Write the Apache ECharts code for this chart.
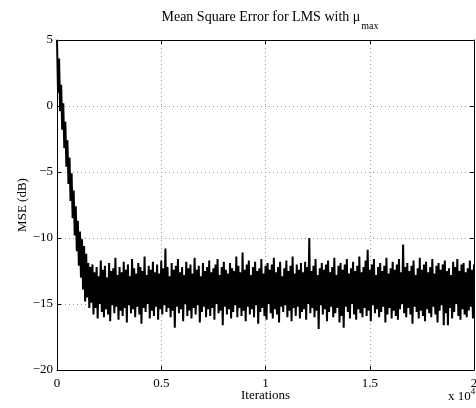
<!DOCTYPE html>
<html>
<head>
<meta charset="utf-8">
<script src="https://cdn.jsdelivr.net/npm/echarts@6/dist/echarts.min.js"></script>
<style>html,body{margin:0;padding:0;background:#fff}#c{width:476px;height:408px}</style>
</head>
<body>
<div id="c"></div>
<script>
// Sample spacing of the recorded curve (iterations per sample)
const STEP = 50;
// x-axis tick labels (in units of 10^4 iterations)
const xTicks = [0, 5000, 10000, 15000, 20000];
const xTickLabels = ['0', '0.5', '1', '1.5', '2'];
// y-axis ticks (dB)
const yTicks = [-20, -15, -10, -5, 0, 5];
// MSE in dB, one value every STEP iterations
const mseDb = [
  5.0, 1.0, 3.6, -0.4, 1.6, -1.8, 0.2, -3.2, -1.2, -4.6,
  -2.6, -5.9, -3.9, -7.2, -5.1, -8.5, -6.4, -9.8, -7.6, -11.0,
  -8.7, -12.1, -9.5, -13.0, -10.1, -13.9, -10.6, -14.8, -11.2, -14.5,
  -11.9, -15.3, -12.2, -14.9, -12.0, -15.8,
  -12.6,-15.3,-12.2,-16.1,-12.9,-15.0,-11.7,-15.6,-12.4,-16.0,
  -12.1,-15.4,-13.0,-15.8,-11.9,-16.3,-12.5,-15.1,-12.3,-15.7,
  -11.5,-15.2,-12.8,-16.2,-12.2,-15.5,-12.6,-15.9,-11.8,-15.3,
  -12.4,-16.4,-12.0,-15.1,-12.9,-15.7,-11.6,-15.4,-12.3,-16.0,
  -12.7,-15.2,-11.9,-15.8,-12.2,-16.5,-12.5,-15.3,-11.4,-15.6,
  -12.8,-15.0,-12.1,-16.1,-12.4,-15.5,-11.8,-15.9,-12.6,-15.2,
  -12.0,-16.2,-12.7,-15.4,-11.7,-15.8,-12.3,-15.1,-10.8,-15.6,
  -12.2,-15.3,-12.9,-16.0,-11.9,-15.5,-12.4,-16.8,-12.1,-15.2,
  -11.6,-15.7,-12.6,-15.4,-12.2,-16.3,-12.8,-15.0,-11.8,-15.9,
  -12.3,-15.5,-12.0,-16.1,-12.7,-15.3,-11.5,-15.8,-12.4,-15.1,
  -12.1,-16.4,-12.9,-15.6,-11.9,-15.2,-12.5,-16.0,-12.2,-15.4,
  -11.7,-15.9,-12.6,-15.3,-12.3,-16.2,-12.0,-15.0,-11.6,-15.7,
  -12.8,-15.5,-12.2,-16.6,-11.8,-15.2,-12.4,-15.8,-12.7,-15.4,
  -11.9,-16.1,-12.3,-15.6,-12.5,-15.1,-11.4,-16.0,-12.1,-15.3,
  -12.6,-15.9,-11.1,-15.5,-12.4,-16.3,-12.0,-15.2,-11.7,-15.8,
  -12.8,-15.4,-12.2,-16.0,-11.8,-15.1,-12.5,-16.5,-12.3,-15.6,
  -11.6,-15.3,-12.7,-15.9,-12.1,-16.2,-11.9,-15.0,-12.4,-15.7,
  -12.0,-16.1,-11.5,-15.4,-12.6,-15.8,-12.2,-16.4,-11.8,-15.2,
  -12.9,-15.6,-12.3,-15.1,-11.7,-16.0,-12.5,-15.5,-12.1,-16.3,
  -11.4,-15.3,-12.7,-15.9,-12.0,-15.2,-12.4,-16.1,-11.9,-15.6,
  -12.6,-15.4,-11.8,-16.2,-12.2,-15.0,-10.0,-15.7,-12.5,-15.3,
  -12.1,-16.0,-11.6,-15.5,-12.8,-16.9,-12.3,-15.1,-11.9,-15.8,
  -12.4,-15.4,-12.0,-16.3,-11.7,-15.6,-12.6,-15.2,-12.2,-16.0,
  -11.5,-15.7,-12.8,-15.3,-12.1,-16.4,-11.9,-15.9,-12.4,-16.8,
  -12.0,-15.2,-11.6,-15.6,-12.7,-16.1,-12.3,-15.0,-11.8,-15.8,
  -12.5,-16.2,-12.1,-15.4,-11.4,-15.7,-12.6,-16.0,-12.2,-15.3,
  -11.7,-15.9,-10.9,-15.5,-12.4,-16.3,-12.0,-15.1,-11.6,-15.7,
  -12.8,-15.4,-12.2,-16.0,-11.9,-15.6,-12.5,-15.2,-12.1,-16.4,
  -11.5,-15.8,-12.7,-15.3,-12.3,-16.1,-11.8,-15.5,-12.4,-15.9,
  -12.0,-16.2,-11.6,-15.4,-12.6,-15.0,-10.5,-15.7,-12.2,-16.0,
  -11.9,-15.3,-12.5,-15.8,-12.1,-16.5,-11.7,-15.2,-12.8,-15.6,
  -12.3,-16.1,-11.5,-15.5,-12.4,-15.9,-12.0,-16.3,-11.8,-15.4,
  -12.6,-15.7,-12.2,-16.0,-11.6,-15.2,-12.7,-15.8,-12.1,-16.4,
  -11.9,-15.5,-12.4,-15.1,-12.0,-16.6,-11.7,-15.7,-12.5,-16.6,
  -12.3,-15.3,-12.8,-16.1,-11.8,-15.6,-12.2,-15.0,-11.6,-15.9,
  -12.5,-16.2,-12.0,-15.4,-11.9,-15.8,-12.6,-16.0,-12.3,-15.5,
  -11.7,-15.2,-12.4,-16.1,-12.0
];

const FONT = "'Liberation Serif', 'Times New Roman', serif";
const chart = echarts.init(document.getElementById('c'), null, {renderer: 'canvas'});
const xMin = xTicks[0], xMax = xTicks[xTicks.length - 1];
const xInt = xTicks[1] - xTicks[0];
const yMin = yTicks[0], yMax = yTicks[yTicks.length - 1];
const yInt = yTicks[1] - yTicks[0];
const labelOf = v => { const k = xTicks.indexOf(v); return k >= 0 ? xTickLabels[k] : ''; };

const axisCommon = {
  axisLine: {show: true, onZero: false, lineStyle: {color: '#000', width: 1}},
  axisTick: {show: true, inside: true, length: 4, lineStyle: {color: '#000'}},
};

chart.setOption({
  animation: false,
  backgroundColor: '#fff',
  title: {
    text: '{a|Mean Square Error for LMS with μ}{s|max}',
    left: 265, top: 5, textAlign: 'center',
    textStyle: {
      fontWeight: 'normal',
      rich: {
        a: {fontFamily: FONT, fontSize: 14, fontWeight: 'normal', color: '#000', verticalAlign: 'top', lineHeight: 21},
        s: {fontFamily: FONT, fontSize: 10, fontWeight: 'normal', color: '#000', verticalAlign: 'bottom', lineHeight: 21, padding: [9, 0, 0, 1]}
      }
    }
  },
  grid: {left: 57, right: 2, top: 40, bottom: 38, show: false, containLabel: false, outerBoundsMode: 'none'},
  xAxis: [
    Object.assign({}, axisCommon, {
      type: 'value', min: xMin, max: xMax, interval: xInt, position: 'bottom',
      name: 'Iterations', nameLocation: 'middle', nameGap: 19, nameMoveOverlap: false,
      nameTextStyle: {fontFamily: FONT, fontSize: 13, color: '#000'},
      axisLabel: {fontFamily: FONT, fontSize: 13, color: '#000', margin: 7, formatter: labelOf},
      splitLine: {show: true, lineStyle: {color: '#999', type: [1, 3], width: 1}}
    }),
    Object.assign({}, axisCommon, {
      type: 'value', min: xMin, max: xMax, interval: xInt, position: 'top',
      axisLabel: {show: false}, splitLine: {show: false}
    })
  ],
  yAxis: [
    Object.assign({}, axisCommon, {
      type: 'value', min: yMin, max: yMax, interval: yInt, position: 'left',
      name: 'MSE (dB)', nameLocation: 'middle', nameGap: 28, nameRotate: 90, nameMoveOverlap: false,
      nameTextStyle: {fontFamily: FONT, fontSize: 13, color: '#000'},
      axisLabel: {fontFamily: FONT, fontSize: 13, color: '#000', margin: 4,
        formatter: v => (v < 0 ? '\u2212' + Math.abs(v) : String(v))},
      splitLine: {show: true, lineStyle: {color: '#999', type: [1, 3], width: 1}}
    }),
    Object.assign({}, axisCommon, {
      type: 'value', min: yMin, max: yMax, interval: yInt, position: 'right',
      axisLabel: {show: false}, splitLine: {show: false}
    })
  ],
  graphic: [{
    type: 'text', left: 448, top: 386,
    style: {
      text: '{a|x 10}{b|4}',
      rich: {
        a: {fontFamily: FONT, fontSize: 13, fill: '#000', color: '#000', verticalAlign: 'bottom', lineHeight: 16, padding: [4, 0, 0, 0]},
        b: {fontFamily: FONT, fontSize: 9, fill: '#000', color: '#000', verticalAlign: 'top', lineHeight: 16}
      }
    }
  }],
  series: [{
    type: 'line',
    xAxisIndex: 0, yAxisIndex: 0,
    data: mseDb.map((v, i) => [i * STEP, v]),
    showSymbol: false,
    symbol: 'none',
    lineStyle: {color: '#000', width: 2},
    silent: true
  }]
});
</script>
</body>
</html>
